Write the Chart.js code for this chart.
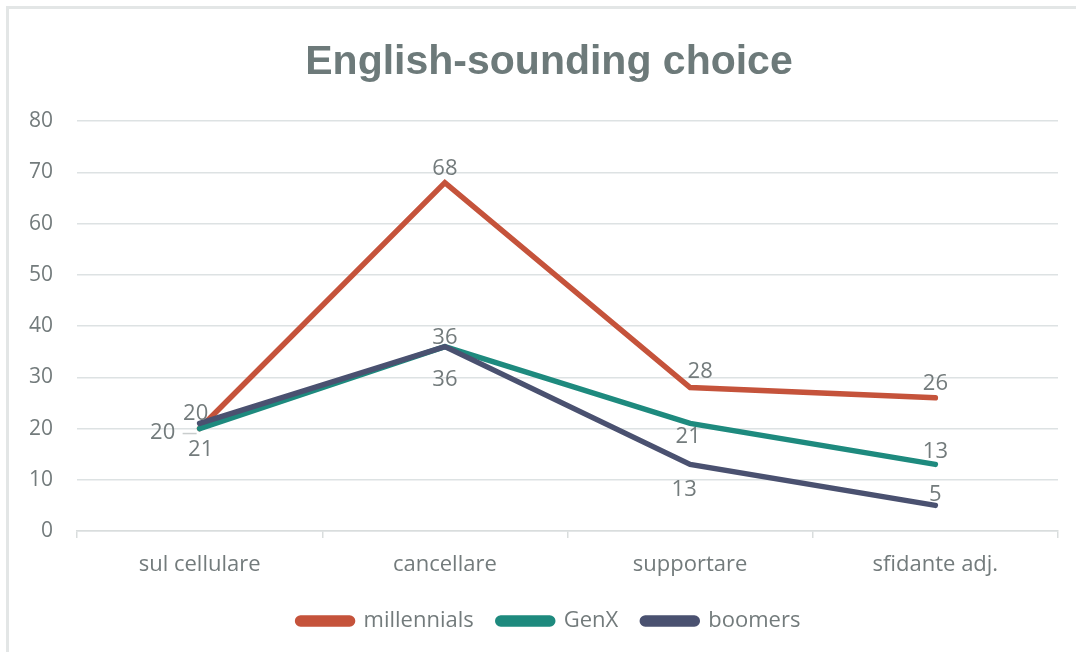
<!DOCTYPE html>
<html>
<head>
<meta charset="utf-8">
<script src="https://cdn.jsdelivr.net/npm/chart.js@4/dist/chart.umd.min.js"></script>
<style>
    html, body { margin: 0; padding: 0; background: #ffffff; }
    #wrap { position: relative; width: 1076px; height: 652px; overflow: hidden; }
    #frame {
        position: absolute; left: 6px; top: 6px; right: -10px; bottom: -10px;
        border-left: 3px solid #e3e6e6; border-top: 3px solid #e3e6e6;
        pointer-events: none;
    }
</style>
</head>
<body>
<div id="wrap">
    <canvas id="chart" width="1076" height="652"></canvas>
    <div id="frame"></div>
</div>
<script>
// Chart data
const categories = ['sul cellulare', 'cancellare', 'supportare', 'sfidante adj.'];
const millennials = [20, 68, 28, 26];
const genX = [20, 36, 21, 13];
const boomers = [21, 36, 13, 5];
const yTicks = [0, 10, 20, 30, 40, 50, 60, 70, 80];

// Label placement (pixel offsets from each point), styling only
const millennialsLabelOffsets = [[-4, -15], [0, -14], [10, -16], [0, -14]];
const genXLabelOffsets = [[-37, 4], [0, -9], [-2, 13], [0, -13]];
const boomersLabelOffsets = [[1, 26], [0, 33], [-6, 25], [0, -11]];

const textColor = '#737b7c';
Chart.defaults.font.family = "'Open Sans', 'Liberation Sans', sans-serif";
Chart.defaults.color = textColor;

// Draw value labels next to points
const pointLabels = {
    id: 'pointLabels',
    afterDatasetsDraw(chart) {
        const ctx = chart.ctx;
        ctx.save();
        ctx.font = "22px 'Open Sans', sans-serif";
        ctx.fillStyle = textColor;
        ctx.textAlign = 'center';
        ctx.textBaseline = 'middle';
        chart.data.datasets.forEach((ds, di) => {
            const meta = chart.getDatasetMeta(di);
            meta.data.forEach((pt, i) => {
                const off = ds.labelOffsets[i];
                const x = pt.x + off[0];
                const y = pt.y + off[1];
                ctx.fillText(String(ds.data[i]), x, y);
                if (ds.leader && ds.leader[i]) {
                    ctx.strokeStyle = '#c9cdcd';
                    ctx.lineWidth = 1.5;
                    ctx.beginPath();
                    ctx.moveTo(x + 20, y + 1);
                    ctx.lineTo(pt.x - 3, y + 1);
                    ctx.stroke();
                }
            });
        });
        ctx.restore();
    }
};

// The y labels sit in the left padding; widen the scale box so they are not clipped
const unclipYLabels = {
    id: 'unclipYLabels',
    beforeDraw(chart) {
        chart.scales.y.left = 0;
    }
};

function lineDataset(label, data, color, order, offsets) {
    return {
        label: label,
        data: data,
        borderColor: color,
        backgroundColor: color,
        borderWidth: 5.5,
        borderCapStyle: 'round',
        borderJoinStyle: 'miter',
        pointRadius: 0,
        pointHoverRadius: 0,
        tension: 0,
        fill: false,
        order: order,
        labelOffsets: offsets
    };
}

const genXDataset = lineDataset('GenX', genX, '#1e8a7e', 1, genXLabelOffsets);
genXDataset.leader = [true, false, false, false];

new Chart(document.getElementById('chart'), {
    type: 'line',
    data: {
        labels: categories,
        datasets: [
            lineDataset('millennials', millennials, '#c5533b', 2, millennialsLabelOffsets),
            genXDataset,
            lineDataset('boomers', boomers, '#4a5170', 0, boomersLabelOffsets)
        ]
    },
    options: {
        responsive: false,
        animation: false,
        layout: { padding: { left: 40, right: 18, top: 0, bottom: 10 } },
        plugins: {
            title: {
                display: true,
                text: 'English-sounding choice',
                color: '#6d7a7a',
                font: { size: 41, weight: 'bold', family: "'Liberation Sans', Arial, sans-serif" },
                padding: { top: 38, bottom: 34 }
            },
            legend: {
                position: 'bottom',
                labels: {
                    color: textColor,
                    font: { size: 22 },
                    boxWidth: 55,
                    boxHeight: 6,
                    useBorderRadius: true,
                    borderRadius: 3,
                    padding: 24,
                    sort: (a, b) => a.datasetIndex - b.datasetIndex
                }
            },
            tooltip: { enabled: false }
        },
        scales: {
            x: {
                offset: true,
                afterFit(scale) { scale.height = 55; },
                grid: {
                    offset: true,
                    drawOnChartArea: false,
                    drawTicks: true,
                    tickLength: 7,
                    color: '#d9dddd',
                    lineWidth: 1.5
                },
                border: { display: true, color: '#d9dddd', width: 1.5 },
                ticks: { color: textColor, font: { size: 22 }, padding: 14 }
            },
            y: {
                min: 0,
                max: 80,
                afterFit(scale) { scale.width = 37; },
                afterBuildTicks(scale) { scale.ticks = yTicks.map(v => ({ value: v })); },
                grid: { color: '#dde2e3', lineWidth: 1.5, drawTicks: false },
                border: { display: false },
                ticks: { color: textColor, font: { size: 21 }, padding: 24 }
            }
        }
    },
    plugins: [pointLabels, unclipYLabels]
});
</script>
</body>
</html>
